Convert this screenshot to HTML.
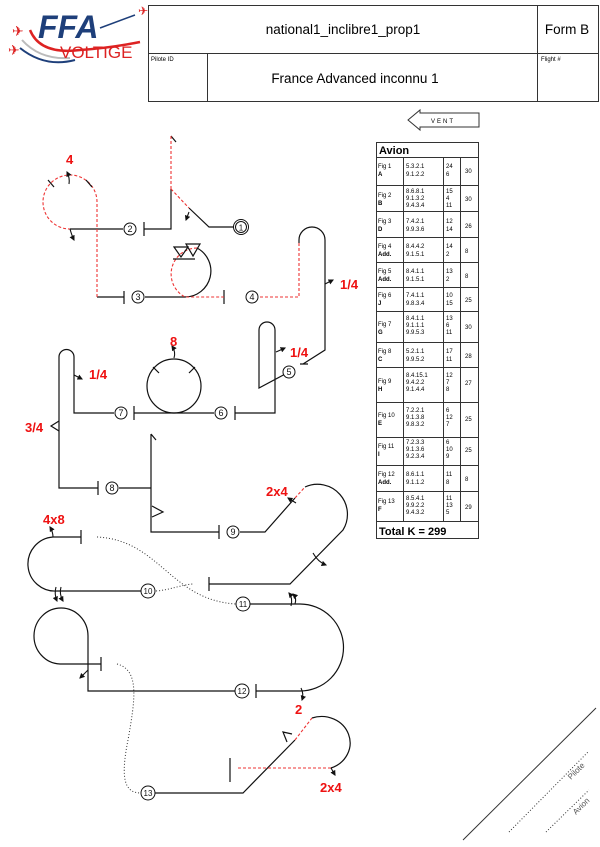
<!DOCTYPE html>
<html><head><meta charset="utf-8"><style>
html,body{margin:0;padding:0;background:#fff;}
svg{display:block;font-family:"Liberation Sans","DejaVu Sans",sans-serif;}
</style></head><body>
<svg width="600" height="847" viewBox="0 0 600 847" xmlns="http://www.w3.org/2000/svg">
<defs>
<marker id="ah" viewBox="0 0 10 10" refX="8" refY="5" markerWidth="5" markerHeight="5" orient="auto"><path d="M0,0 L10,5 L0,10 Z" fill="#111"/></marker>
</defs>
<!-- logo -->
<path d="M30,30 Q40,55 80,50 Q110,48 140,42" stroke="#d22" stroke-width="2.5" fill="none"/>
<path d="M22,40 Q40,60 70,58" stroke="#bbb" stroke-width="2" fill="none"/>
<path d="M20,48 Q45,68 75,60" stroke="#1e3f7a" stroke-width="2" fill="none"/>
<text x="38" y="38" font-size="32" font-weight="bold" font-style="italic" fill="#1e3f7a">FFA</text>
<line x1="100" y1="28" x2="135" y2="15" stroke="#1e3f7a" stroke-width="1.5"/>
<text x="138" y="15" font-size="12" fill="#d22">✈</text>
<text x="12" y="36" font-size="14" fill="#d22">✈</text>
<text x="8" y="55" font-size="14" fill="#d22">✈</text>
<text x="60" y="58" font-size="17" fill="#d22">VOLTIGE</text>
<!-- header -->
<g stroke="#333" stroke-width="1" fill="none">
<rect x="148.5" y="5.5" width="450" height="96"/>
<line x1="148" y1="53.5" x2="598" y2="53.5"/>
<line x1="537.5" y1="5" x2="537.5" y2="101"/>
<line x1="207.5" y1="53" x2="207.5" y2="101"/>
</g>
<text x="343" y="34" font-size="13.5" text-anchor="middle">national1_inclibre1_prop1</text>
<text x="567" y="34" font-size="13.5" text-anchor="middle">Form B</text>
<text x="151" y="61" font-size="6">Pilote ID</text>
<text x="541" y="61" font-size="6">Flight #</text>
<text x="355" y="83" font-size="13.5" text-anchor="middle">France Advanced inconnu 1</text>
<!-- vent -->
<polygon points="408,120 420,110 420,113 479,113 479,127 420,127 420,130" fill="none" stroke="#333"/>
<text x="443" y="123" font-size="6" text-anchor="middle" letter-spacing="2">VENT</text>
<!-- table -->
<g stroke="#333" stroke-width="1" fill="none">
<rect x="376.5" y="142.5" width="102" height="396"/>
<line x1="376" y1="157.5" x2="479" y2="157.5"/>
<line x1="376" y1="521.5" x2="479" y2="521.5"/>
<line x1="403.5" y1="157" x2="403.5" y2="521"/>
<line x1="443.5" y1="157" x2="443.5" y2="521"/>
<line x1="460.5" y1="157" x2="460.5" y2="521"/>
<line x1="376" y1="185.5" x2="479" y2="185.5"/>
<line x1="376" y1="211.5" x2="479" y2="211.5"/>
<line x1="376" y1="237.5" x2="479" y2="237.5"/>
<line x1="376" y1="262.5" x2="479" y2="262.5"/>
<line x1="376" y1="287.5" x2="479" y2="287.5"/>
<line x1="376" y1="311.5" x2="479" y2="311.5"/>
<line x1="376" y1="342.5" x2="479" y2="342.5"/>
<line x1="376" y1="367.5" x2="479" y2="367.5"/>
<line x1="376" y1="402.5" x2="479" y2="402.5"/>
<line x1="376" y1="437.5" x2="479" y2="437.5"/>
<line x1="376" y1="465.5" x2="479" y2="465.5"/>
<line x1="376" y1="491.5" x2="479" y2="491.5"/>
</g>
<text x="379" y="154" font-size="11" font-weight="bold">Avion</text>
<text x="379" y="535" font-size="11" font-weight="bold">Total K = 299</text>
<g font-size="6">
<text x="378" y="168">Fig 1</text><text x="378" y="176" font-weight="bold">A</text>
<text x="406" y="168">5.3.2.1</text><text x="406" y="176">9.1.2.2</text>
<text x="446" y="168">24</text><text x="446" y="176">6</text><text x="465" y="173">30</text>
<text x="378" y="197">Fig 2</text><text x="378" y="205" font-weight="bold">B</text>
<text x="406" y="193">8.6.8.1</text><text x="406" y="200">9.1.3.2</text><text x="406" y="207">9.4.3.4</text>
<text x="446" y="193">15</text><text x="446" y="200">4</text><text x="446" y="207">11</text><text x="465" y="201">30</text>
<text x="378" y="223">Fig 3</text><text x="378" y="231" font-weight="bold">D</text>
<text x="406" y="223">7.4.2.1</text><text x="406" y="231">9.9.3.6</text>
<text x="446" y="223">12</text><text x="446" y="231">14</text><text x="465" y="228">26</text>
<text x="378" y="248">Fig 4</text><text x="378" y="256" font-weight="bold">Add.</text>
<text x="406" y="248">8.4.4.2</text><text x="406" y="256">9.1.5.1</text>
<text x="446" y="248">14</text><text x="446" y="256">2</text><text x="465" y="253">8</text>
<text x="378" y="273">Fig 5</text><text x="378" y="281" font-weight="bold">Add.</text>
<text x="406" y="273">8.4.1.1</text><text x="406" y="281">9.1.5.1</text>
<text x="446" y="273">13</text><text x="446" y="281">2</text><text x="465" y="278">8</text>
<text x="378" y="297">Fig 6</text><text x="378" y="305" font-weight="bold">J</text>
<text x="406" y="297">7.4.1.1</text><text x="406" y="305">9.8.3.4</text>
<text x="446" y="297">10</text><text x="446" y="305">15</text><text x="465" y="302">25</text>
<text x="378" y="326">Fig 7</text><text x="378" y="334" font-weight="bold">G</text>
<text x="406" y="320">8.4.1.1</text><text x="406" y="327">9.1.1.1</text><text x="406" y="334">9.9.5.3</text>
<text x="446" y="320">13</text><text x="446" y="327">6</text><text x="446" y="334">11</text><text x="465" y="329">30</text>
<text x="378" y="353">Fig 8</text><text x="378" y="361" font-weight="bold">C</text>
<text x="406" y="353">5.2.1.1</text><text x="406" y="361">9.9.5.2</text>
<text x="446" y="353">17</text><text x="446" y="361">11</text><text x="465" y="358">28</text>
<text x="378" y="383">Fig 9</text><text x="378" y="391" font-weight="bold">H</text>
<text x="406" y="377">8.4.15.1</text><text x="406" y="384">9.4.2.2</text><text x="406" y="391">9.1.4.4</text>
<text x="446" y="377">12</text><text x="446" y="384">7</text><text x="446" y="391">8</text><text x="465" y="385">27</text>
<text x="378" y="417">Fig 10</text><text x="378" y="425" font-weight="bold">E</text>
<text x="406" y="412">7.2.2.1</text><text x="406" y="419">9.1.3.8</text><text x="406" y="426">9.8.3.2</text>
<text x="446" y="412">6</text><text x="446" y="419">12</text><text x="446" y="426">7</text><text x="465" y="421">25</text>
<text x="378" y="448">Fig 11</text><text x="378" y="456" font-weight="bold">I</text>
<text x="406" y="444">7.2.3.3</text><text x="406" y="451">9.1.3.6</text><text x="406" y="458">9.2.3.4</text>
<text x="446" y="444">6</text><text x="446" y="451">10</text><text x="446" y="458">9</text><text x="465" y="452">25</text>
<text x="378" y="476">Fig 12</text><text x="378" y="484" font-weight="bold">Add.</text>
<text x="406" y="476">8.6.1.1</text><text x="406" y="484">9.1.1.2</text>
<text x="446" y="476">11</text><text x="446" y="484">8</text><text x="465" y="481">8</text>
<text x="378" y="503">Fig 13</text><text x="378" y="511" font-weight="bold">F</text>
<text x="406" y="500">8.5.4.1</text><text x="406" y="507">9.9.2.2</text><text x="406" y="514">9.4.3.2</text>
<text x="446" y="500">11</text><text x="446" y="507">13</text><text x="446" y="514">5</text><text x="465" y="509">29</text>
</g>
<!-- figures -->
<g fill="none" stroke="#111" stroke-width="1.2">
<line x1="171" y1="136" x2="176" y2="142"/>
<path d="M171,189 V229 H144"/><line x1="144" y1="222" x2="144" y2="236"/>
<path d="M189,208 L209,227 H235"/>
<path d="M70,229 H123"/>
<path d="M97,297 H124"/><line x1="124" y1="291" x2="124" y2="304"/>
<path d="M145,297 H185 A26,26 0 0 0 197,248"/>
<line x1="224" y1="290" x2="224" y2="304"/>
<path d="M299,243 V240 A13,13 0 0 1 325,240 V350 L303,364 M300,364 H308"/>
<path d="M289,372 L259,388 V330 A8,8 0 0 1 275,330 V413 H235"/><line x1="235" y1="406" x2="235" y2="420"/>
<path d="M214,413 H134"/><line x1="134" y1="406" x2="134" y2="420"/>
<circle cx="174" cy="386" r="27"/>
<path d="M114,413 H74 V357 A7.5,7.5 0 0 0 59,357 V488 H98"/><line x1="98" y1="481" x2="98" y2="495"/>
<path d="M59,421 L51,426 L59,431"/>
<path d="M119,488 H151 M151,434 L156,440 M151,434 V532 H219"/><line x1="219" y1="525" x2="219" y2="539"/>
<path d="M152,506 L163,512 L152,517"/>
<path d="M240,532 H265 L295,498 M305,487 A30,30 0 0 1 343,530 L290,584 H209"/><line x1="209" y1="577" x2="209" y2="591"/>
<path d="M141,591 H57 A27,27 0 0 1 53,537 H81"/><line x1="81" y1="530" x2="81" y2="544"/>
<path d="M250,604 H300 A43.5,43.5 0 0 1 300,691 H256"/><line x1="256" y1="684" x2="256" y2="698"/>
<path d="M235,691 H88 V636 A27,28 0 1 0 60,664 H101"/><line x1="101" y1="657" x2="101" y2="671"/>
<path d="M155,793 H243 L295,740 M312,718 A27,25 0 0 1 331,768"/><line x1="230" y1="758" x2="230" y2="782"/>
<path d="M287,742 L283,732 L292,734"/>
</g>
<g fill="none" stroke="#e33" stroke-width="1.1" stroke-dasharray="3,2">
<line x1="171" y1="136" x2="171" y2="189"/>
<line x1="171" y1="189" x2="189" y2="208"/>
<path d="M97,297 V202 A27,27 0 1 0 70,229"/>
<path d="M197,248 A26,26 0 0 0 185,297 H224"/>
<path d="M260,297 H299 V243"/>
<line x1="295" y1="498" x2="305" y2="487"/>
<line x1="295" y1="740" x2="312" y2="718"/>
<line x1="331" y1="768" x2="237" y2="768"/>
</g>
<g fill="none" stroke="#333" stroke-width="1" stroke-dasharray="1,2">
<path d="M97,537 C160,540 170,600 236,604"/>
<path d="M156,591 C170,590 180,585 193,584"/>
<path d="M117,664 C140,670 135,700 128,740 C120,780 125,793 141,793"/>
<line x1="509" y1="832" x2="588" y2="752"/>
<line x1="546" y1="832" x2="589" y2="790"/>
</g>
<line x1="463" y1="840" x2="596" y2="708" stroke="#333" stroke-width="1"/>
<text font-size="8" fill="#555" transform="translate(571,780) rotate(-45)">Pilote</text>
<text font-size="8" fill="#555" transform="translate(576,815) rotate(-45)">Avion</text>
<g fill="none" stroke="#111" stroke-width="1.2">
<path d="M174,247 L181,257 L188,247 Z M186,244 L193,256 L200,244 Z M173,259 H195"/>
<line x1="48" y1="180" x2="54" y2="187"/><line x1="86" y1="180" x2="92" y2="187"/>
<line x1="153" y1="367" x2="159" y2="373"/><line x1="189" y1="373" x2="195" y2="367"/>
</g>
<g fill="none" stroke="#111" stroke-width="1.1" marker-end="url(#ah)">
<path d="M69,184 Q70,178 67,172"/><path d="M70,229 Q72,236 74,240"/>
<path d="M189,212 L186,220"/>
<path d="M325,284 L333,280"/><path d="M276,352 L285,348"/>
<path d="M174,358 Q176,352 172,346"/><path d="M74,375 L82,379"/>
<path d="M296,503 L288,498"/><path d="M313,553 Q318,562 326,565"/>
<path d="M53,537 Q53,532 50,527"/><path d="M56,587 Q54,594 57,601"/><path d="M61,587 Q59,594 63,601"/>
<path d="M291,606 Q293,598 289,593"/><path d="M295,604 Q297,598 293,594"/>
<path d="M301,688 Q304,694 302,700"/><path d="M88,670 L80,678"/>
<path d="M331,768 L335,775"/>
</g>
<g fill="#fff" stroke="#111" stroke-width="1">
<circle cx="241" cy="227" r="7.5"/><circle cx="241" cy="227" r="5.5"/>
<circle cx="130" cy="229" r="6"/><circle cx="138" cy="297" r="6"/><circle cx="252" cy="297" r="6"/>
<circle cx="289" cy="372" r="6"/><circle cx="221" cy="413" r="6"/><circle cx="121" cy="413" r="6"/>
<circle cx="112" cy="488" r="6"/><circle cx="233" cy="532" r="6"/><circle cx="148" cy="591" r="7"/>
<circle cx="243" cy="604" r="7"/><circle cx="242" cy="691" r="7"/><circle cx="148" cy="793" r="7"/>
</g>
<g font-size="9" text-anchor="middle" fill="#111">
<text x="241" y="230.5" font-size="8">1</text><text x="130" y="232">2</text><text x="138" y="300">3</text>
<text x="252" y="300">4</text><text x="289" y="375">5</text><text x="221" y="416">6</text>
<text x="121" y="416">7</text><text x="112" y="491">8</text><text x="233" y="535">9</text>
<text x="148" y="594" font-size="8">10</text><text x="243" y="607" font-size="8">11</text>
<text x="242" y="694" font-size="8">12</text><text x="148" y="796" font-size="8">13</text>
</g>
<g fill="#e11" font-size="13" font-weight="bold">
<text x="66" y="164">4</text><text x="340" y="289">1/4</text><text x="290" y="357">1/4</text>
<text x="170" y="346">8</text><text x="89" y="379">1/4</text><text x="25" y="432">3/4</text>
<text x="266" y="496">2x4</text><text x="43" y="524">4x8</text><text x="295" y="714">2</text>
<text x="320" y="792">2x4</text>
</g>
</svg>
</body></html>
